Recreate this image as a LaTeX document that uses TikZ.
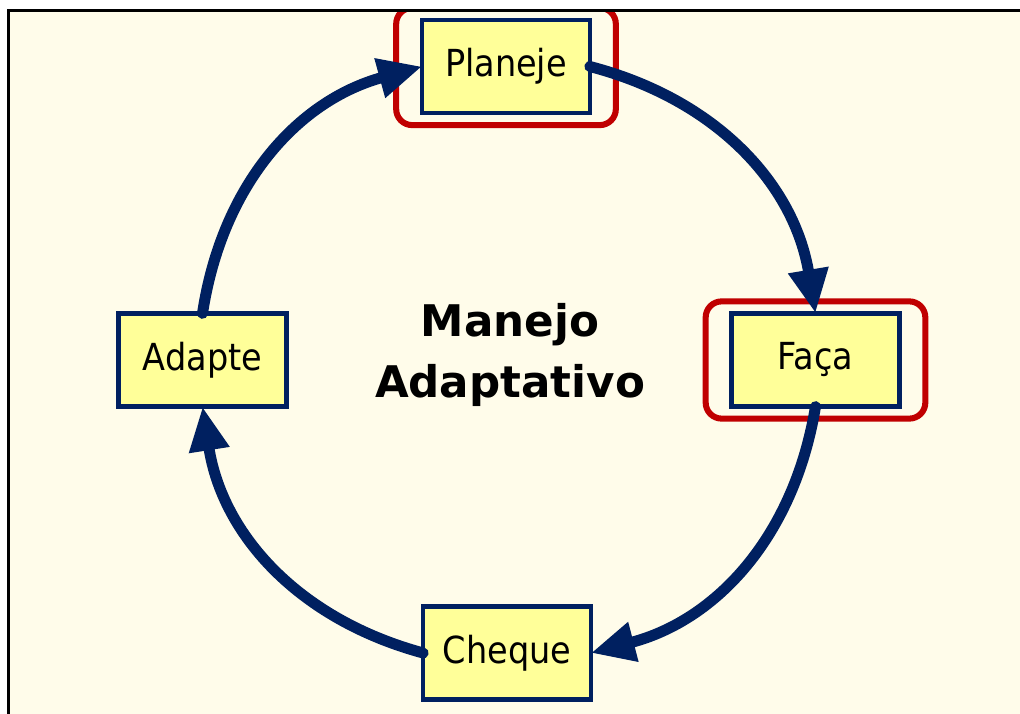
\documentclass[tikz,border=0pt]{standalone}
\usepackage{fontspec}
\setmainfont{DejaVu Sans}
\newfontfamily\boxfont{DejaVu Sans Condensed}
\usetikzlibrary{arrows.meta, fit}
\definecolor{navy}{RGB}{0,32,96}
\definecolor{creme}{RGB}{255,252,234}
\definecolor{amarelo}{RGB}{255,255,153}
\definecolor{vermelho}{RGB}{192,0,0}
\begin{document}
\begin{tikzpicture}[x=0.025cm, y=-0.025cm,
  etapa/.style={draw=navy, fill=amarelo, line width=3.2pt, inner sep=0pt, outer sep=0pt,
    minimum width=4.19cm, minimum height=2.33cm, font=\boxfont\fontsize{26.5}{30}\selectfont},
  destaque/.style={draw=vermelho, line width=4.3pt, rounded corners=0.4cm,
    inner xsep=0.65cm, inner ysep=0.3cm},
  fluxo/.style={draw=navy, line width=7.8pt, line cap=round,
    -{Triangle[length=1.1cm, width=0.95cm]}}]
\useasboundingbox (0,0) rectangle (1020,714);
\begin{scope}
\clip (10,12) rectangle (1020,714);
\fill[creme] (10,12) rectangle (1020,714);
% etapas do ciclo
\node[etapa] (planeje) at (506,66.5) {Planeje};
\node[etapa] (faca) at (815.5,360) {Faça};
\node[etapa] (cheque) at (507,653) {Cheque};
\node[etapa] (adapte) at (202.5,360) {Adapte};
% destaque em vermelho
\node[destaque, fit=(planeje)] (destplan) {};
\node[destaque, fit=(faca)] (destfaca) {};
% titulo
\node[font=\bfseries\fontsize{31}{43}\selectfont, align=center] (titulo) at (510,355) {Manejo\\Adaptativo};
% setas do ciclo
\draw[fluxo] (planeje.east) to[bend left=33] (faca.north);
\draw[fluxo] (faca.south) to[bend left=33] (cheque.east);
\draw[fluxo] (cheque.west) to[bend left=33] (adapte.south);
\draw[fluxo] (adapte.north) to[bend left=33] (planeje.west);
\end{scope}
% moldura
\draw[line width=2.2pt] (8.7,714) -- (8.7,10.5) -- (1020,10.5);
\end{tikzpicture}
\end{document}
